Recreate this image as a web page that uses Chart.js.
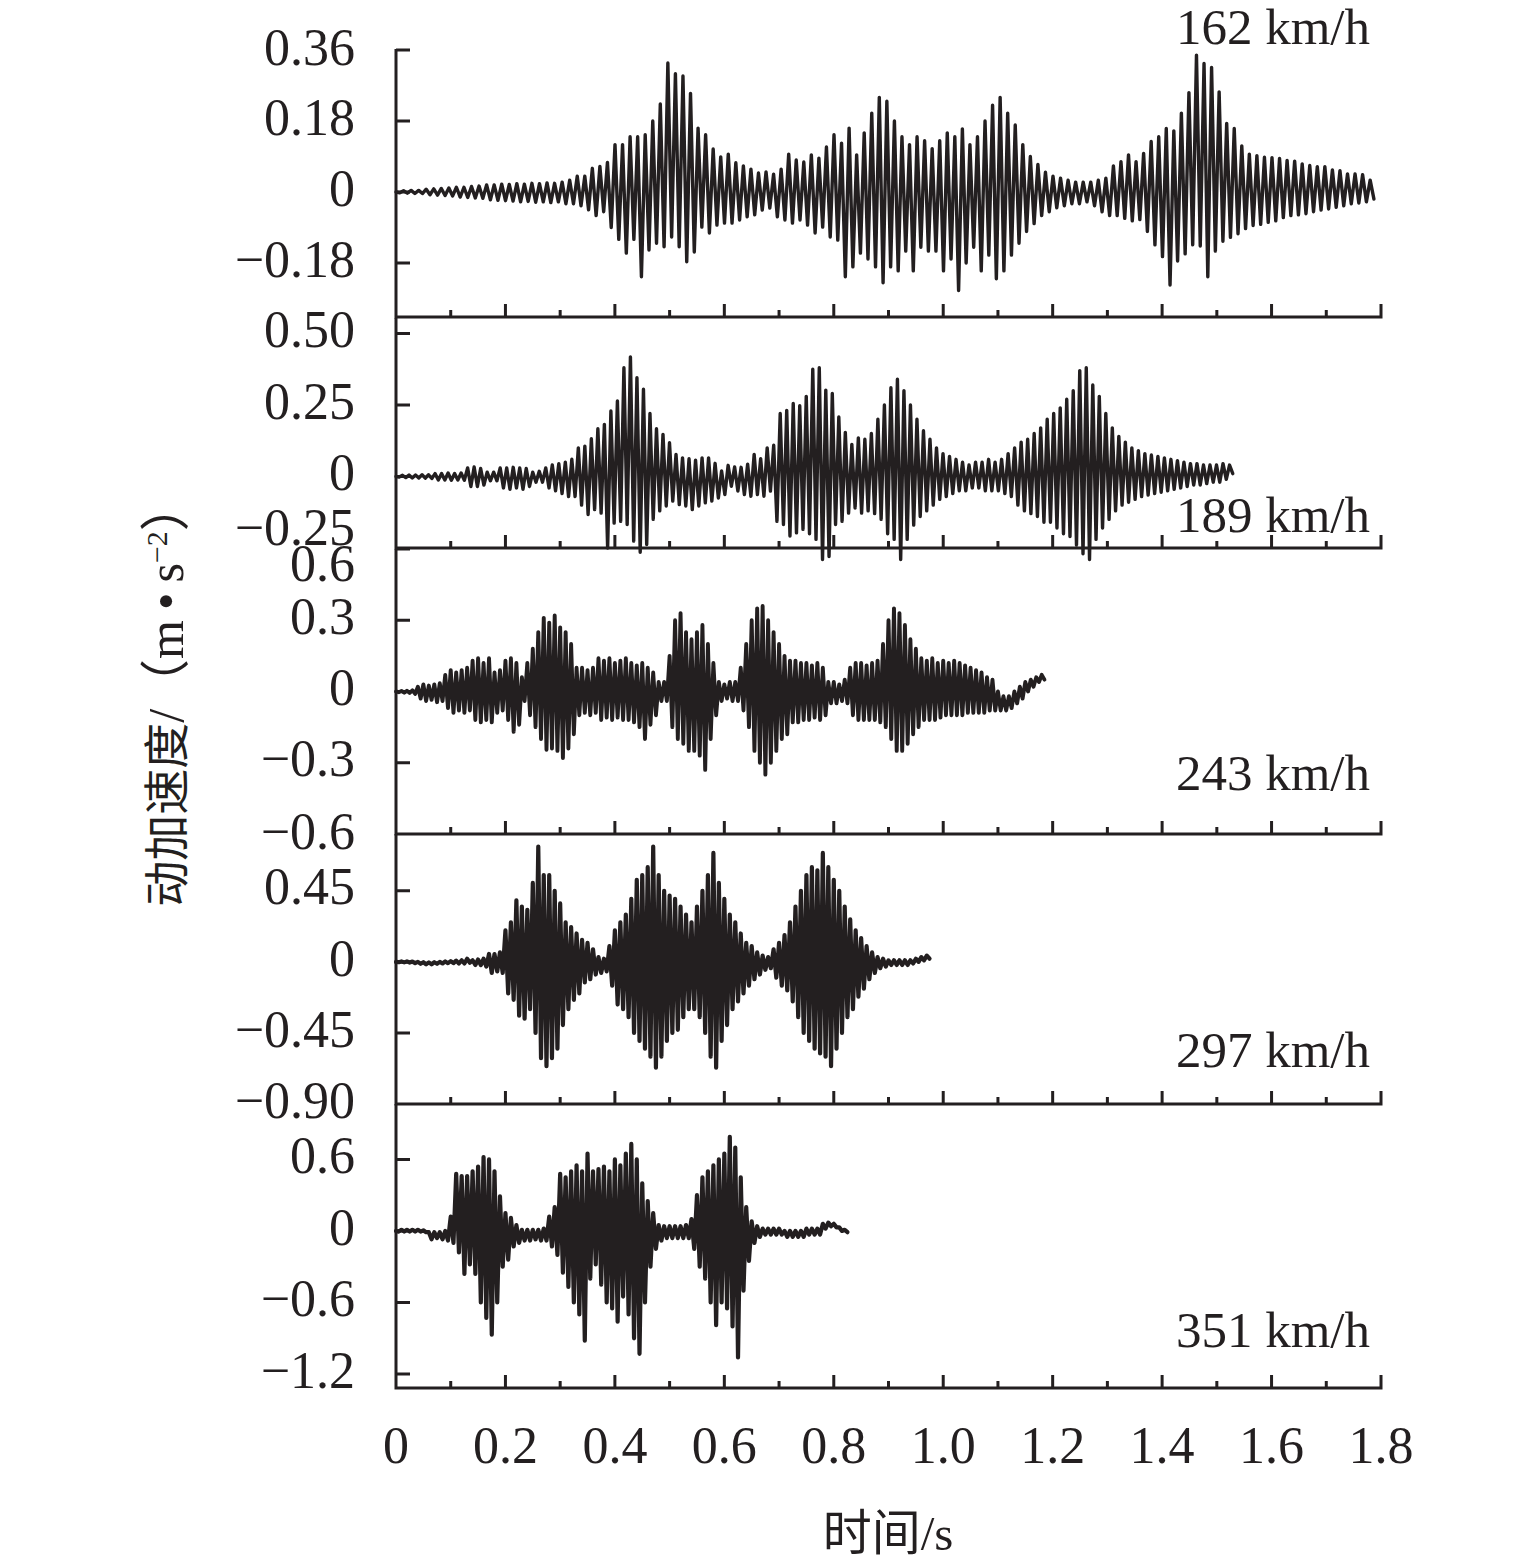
<!DOCTYPE html>
<html>
<head>
<meta charset="utf-8">
<script src="https://cdn.jsdelivr.net/npm/chart.js@4.4.0/dist/chart.umd.min.js"></script>
<style>
html,body{margin:0;padding:0;background:#fff;}
#wrap{position:relative;width:1535px;height:1568px;overflow:hidden;background:#fff;}
canvas.pc{position:absolute;left:0;}
.txt{position:absolute;font-family:"Liberation Serif","Times New Roman","Noto Sans CJK SC",serif;color:#231f20;white-space:nowrap;line-height:1;}
.speed{font-size:51px;transform:translateY(-50%);}
#ytitle{font-size:46px;left:166px;top:694px;transform:translate(-50%,-50%) rotate(-90deg);}
#ytitle .lat{font-size:50px;}
#ytitle sup{font-size:0.6em;position:relative;top:-0.55em;vertical-align:baseline;}
#xtitle{font-size:49px;left:888px;top:1533px;transform:translate(-50%,-50%);}
</style>
</head>
<body>
<div id="wrap">
  <div class="txt" id="ytitle">动加速度<span class="lat">/（m&#8201;•&#8201;s<sup>−2</sup>）</span></div>
  <div class="txt" id="xtitle">时间/s</div>
</div>
<script>
// ---------------- data ----------------
const timeTicksMajor = [0, 0.2, 0.4, 0.6, 0.8, 1.0, 1.2, 1.4, 1.6, 1.8];
const timeTickLabels = ['0', '0.2', '0.4', '0.6', '0.8', '1.0', '1.2', '1.4', '1.6', '1.8'];
const timeTicksMinor = [0.1, 0.3, 0.5, 0.7, 0.9, 1.1, 1.3, 1.5, 1.7];

const speedLabels = ['162 km/h', '189 km/h', '243 km/h', '297 km/h', '351 km/h'];

const ticks162 = [0.36, 0.18, 0, -0.18];
const tickLabels162 = ['0.36', '0.18', '0', '−0.18'];
const ticks189 = [0.5, 0.25, 0, -0.25];
const tickLabels189 = ['0.50', '0.25', '0', '−0.25'];
const ticks243 = [0.6, 0.3, 0, -0.3, -0.6];
const tickLabels243 = ['0.6', '0.3', '0', '−0.3', '−0.6'];
const ticks297 = [0.45, 0, -0.45, -0.9];
const tickLabels297 = ['0.45', '0', '−0.45', '−0.90'];
const ticks351 = [0.6, 0, -0.6, -1.2];
const tickLabels351 = ['0.6', '0', '−0.6', '−1.2'];

// sampling step (s) of each record, and the successive crest / trough values (m/s^2)
const step162 = 0.0069;
const crest162 = [0,.003,.004,.004,.007,.008,.009,.01,.012,.012,.014,.015,.018,.018,.02,.019,.021,.02,.022,.021,
.023,.022,.025,.03,.04,.04,.06,.065,.075,.12,.12,.14,.14,.145,.18,.223,.327,.30,.294,.25,
.162,.145,.109,.089,.096,.074,.066,.058,.048,.051,.045,.058,.096,.081,.076,.094,.086,.114,.145,.124,
.162,.094,.15,.2,.24,.23,.18,.14,.12,.14,.13,.11,.13,.15,.14,.16,.12,.14,.18,.22,
.24,.2,.17,.12,.09,.07,.05,.04,.035,.03,.025,.025,.025,.03,.035,.066,.077,.094,.077,.098,
.128,.14,.161,.155,.2,.252,.347,.326,.316,.254,.174,.161,.117,.096,.092,.088,.087,.085,.08,.078,
.071,.067,.064,.064,.056,.054,.046,.046,.044,.03];
const trough162 = [-.002,-.003,-.004,-.004,-.007,-.008,-.009,-.01,-.013,-.014,-.015,-.016,-.02,-.021,-.022,-.023,-.025,-.024,-.026,-.025,
-.027,-.025,-.03,-.03,-.035,-.045,-.06,-.05,-.09,-.12,-.155,-.12,-.215,-.147,-.13,-.139,-.114,-.139,-.177,-.152,
-.089,-.104,-.084,-.079,-.079,-.071,-.063,-.058,-.046,-.041,-.063,-.071,-.079,-.071,-.084,-.104,-.089,-.114,-.122,-.215,
-.19,-.155,-.17,-.19,-.23,-.19,-.2,-.15,-.2,-.14,-.15,-.15,-.2,-.17,-.25,-.18,-.14,-.2,-.16,-.22,
-.2,-.16,-.13,-.1,-.08,-.06,-.05,-.04,-.035,-.03,-.03,-.025,-.035,-.05,-.06,-.06,-.067,-.073,-.07,-.1,
-.134,-.164,-.236,-.175,-.157,-.134,-.137,-.215,-.15,-.125,-.115,-.106,-.093,-.085,-.082,-.077,-.073,-.065,-.06,-.058,
-.055,-.05,-.046,-.043,-.039,-.035,-.03,-.028,-.025,-.018];

const step189 = 0.00595;
const crest189 = [0,.004,.005,.005,.006,.006,.01,.01,.012,.01,.012,.03,.033,.028,.015,.015,.03,.03,.032,.03,
.028,.015,.018,.03,.04,.045,.05,.06,.1,.106,.132,.167,.182,.229,.264,.38,.418,.345,.305,.22,
.167,.147,.118,.077,.065,.062,.057,.065,.065,.046,.019,.039,.033,.032,.043,.077,.062,.1,.109,.22,
.231,.255,.247,.28,.375,.38,.302,.29,.208,.154,.112,.135,.13,.15,.2,.25,.31,.34,.3,.25,
.2,.16,.13,.1,.08,.07,.06,.05,.04,.05,.05,.06,.05,.06,.08,.1,.12,.13,.15,.17,
.2,.22,.24,.27,.3,.37,.38,.32,.28,.22,.17,.14,.12,.1,.09,.08,.075,.07,.065,.06,
.055,.05,.045,.045,.04,.04,.04,.045,.04];
const trough189 = [-.002,-.004,-.005,-.005,-.006,-.007,-.012,-.012,-.013,-.012,-.013,-.035,-.035,-.03,-.015,-.015,-.04,-.045,-.04,-.045,
-.035,-.02,-.02,-.04,-.05,-.06,-.07,-.07,-.1,-.133,-.116,-.128,-.25,-.163,-.157,-.168,-.226,-.265,-.238,-.15,
-.12,-.103,-.086,-.098,-.103,-.116,-.103,-.092,-.086,-.075,-.063,-.034,-.051,-.063,-.069,-.063,-.069,-.051,-.157,-.168,
-.208,-.197,-.185,-.2,-.22,-.29,-.28,-.168,-.157,-.128,-.11,-.128,-.12,-.13,-.15,-.2,-.22,-.29,-.22,-.17,
-.14,-.12,-.1,-.08,-.07,-.06,-.05,-.05,-.04,-.04,-.05,-.05,-.05,-.06,-.07,-.1,-.12,-.13,-.14,-.16,
-.16,-.18,-.2,-.21,-.24,-.27,-.29,-.22,-.18,-.15,-.12,-.1,-.09,-.08,-.07,-.065,-.06,-.055,-.05,-.045,
-.04,-.035,-.03,-.03,-.025,-.02,-.02,-.01,.01];

const step243 = 0.005;
const crest243 = [0,.002,.003,.005,.02,.03,.025,.03,.035,.07,.09,.08,.09,.1,.13,.14,.12,.14,.08,.09,
.13,.14,.12,.06,.12,.18,.25,.31,.29,.32,.27,.25,.2,.1,.1,.09,.1,.14,.13,.14,
.12,.13,.14,.12,.11,.12,.1,.08,.04,.04,.15,.3,.33,.25,.22,.25,.28,.2,.12,.04,
.03,.04,.04,.1,.2,.3,.35,.36,.3,.25,.2,.15,.13,.13,.12,.12,.11,.12,.1,.04,
.04,.03,.05,.1,.12,.12,.11,.12,.13,.2,.3,.35,.33,.28,.22,.18,.14,.13,.14,.12,
.13,.12,.13,.12,.11,.1,.09,.08,.06,.05,0,-.02,-.02,0,.02,.04,.05,.06,.07];
const trough243 = [-.003,-.005,-.006,-.01,-.03,-.04,-.035,-.045,-.04,-.07,-.09,-.08,-.09,-.08,-.12,-.13,-.12,-.13,-.09,-.08,
-.12,-.17,-.14,-.04,-.1,-.15,-.2,-.245,-.24,-.25,-.28,-.24,-.18,-.1,-.09,-.1,-.09,-.12,-.11,-.12,
-.11,-.12,-.12,-.13,-.15,-.2,-.14,-.1,-.04,-.04,-.15,-.2,-.22,-.25,-.25,-.27,-.33,-.2,-.1,-.04,
-.03,-.04,-.04,-.08,-.15,-.25,-.3,-.35,-.3,-.25,-.2,-.18,-.13,-.13,-.12,-.12,-.11,-.12,-.1,-.05,
-.05,-.04,-.05,-.1,-.12,-.12,-.12,-.12,-.13,-.15,-.2,-.25,-.25,-.22,-.18,-.15,-.12,-.12,-.12,-.11,
-.1,-.1,-.1,-.1,-.09,-.09,-.09,-.09,-.08,-.08,-.08,-.08,-.07,-.05,-.03,0,.02,.04,.05];

const step297 = 0.005;
const crest297 = [0,.003,.003,.002,0,-.002,-.003,-.002,0,.003,.005,.008,.01,.02,.01,.015,.02,.05,.05,.06,
.2,.25,.39,.35,.33,.5,.73,.55,.55,.45,.37,.25,.22,.18,.14,.12,.08,.03,.02,.1,
.2,.25,.3,.4,.52,.55,.6,.73,.55,.45,.42,.4,.35,.3,.25,.35,.45,.55,.69,.5,
.4,.3,.25,.18,.12,.1,.06,.04,.03,.08,.12,.17,.25,.35,.45,.55,.6,.58,.69,.6,
.52,.45,.35,.27,.2,.15,.1,.06,.03,.02,.01,.01,.01,.01,.01,.02,.03,.04];
const trough297 = [-.002,-.003,-.004,-.008,-.012,-.015,-.015,-.012,-.01,-.008,-.008,-.01,-.01,-.005,-.02,-.02,-.03,-.07,-.06,-.07,
-.2,-.24,-.34,-.36,-.3,-.45,-.61,-.66,-.61,-.55,-.4,-.3,-.24,-.2,-.13,-.11,-.08,-.07,-.06,-.15,
-.27,-.3,-.35,-.45,-.5,-.55,-.6,-.67,-.6,-.5,-.45,-.43,-.35,-.3,-.3,-.35,-.45,-.6,-.67,-.5,
-.4,-.3,-.25,-.2,-.15,-.11,-.08,-.05,-.04,-.1,-.15,-.18,-.25,-.35,-.45,-.5,-.55,-.58,-.6,-.66,
-.55,-.45,-.35,-.3,-.22,-.17,-.11,-.07,-.04,-.03,-.02,-.02,-.02,-.02,-.01,0,.01,.02];

const step351 = 0.005;
const crest351 = [0,.01,.01,.01,.01,.005,-.01,-.01,-.01,0,.12,.48,.46,.46,.5,.54,.62,.6,.5,.29,
.15,.11,.05,.01,.01,.01,.01,.02,.12,.2,.48,.45,.5,.55,.5,.65,.5,.52,.54,.5,
.6,.55,.65,.73,.6,.4,.25,.15,.05,.04,.04,.04,.04,.05,.1,.3,.45,.5,.55,.6,
.65,.79,.7,.45,.2,.08,.04,.02,.02,.02,.02,0,0,0,0,.02,.02,.02,.06,.07,
.06,.03,.01];
const trough351 = [-.005,-.005,-.005,-.005,-.005,-.01,-.07,-.06,-.07,-.08,-.1,-.18,-.36,-.28,-.36,-.6,-.73,-.87,-.6,-.3,
-.24,-.13,-.1,-.08,-.08,-.07,-.08,-.08,-.13,-.2,-.35,-.47,-.6,-.7,-.92,-.4,-.28,-.45,-.6,-.65,
-.76,-.55,-.7,-.9,-1.03,-.6,-.3,-.15,-.08,-.06,-.06,-.06,-.06,-.06,-.15,-.3,-.4,-.6,-.79,-.6,
-.65,-.8,-1.06,-.5,-.25,-.1,-.05,-.03,-.03,-.03,-.03,-.05,-.05,-.05,-.05,-.03,-.03,-.03,.02,.04,
.03,0,-.01];

// ---------------- drawing ----------------
const INK = '#231f20';
const SERIF = '"Liberation Serif", "Times New Roman", serif';

function record(crest, trough, step) {
  const pts = [];
  for (let k = 0; k < crest.length; k++) {
    pts.push({x: 2 * k * step, y: crest[k]});
    if (k < trough.length) pts.push({x: (2 * k + 1) * step, y: trough[k]});
  }
  return pts;
}

const panelAxes = {
  id: 'panelAxes',
  afterDatasetsDraw(chart, args, o) {
    const {ctx, chartArea: a} = chart;
    const xs = chart.scales.x, ys = chart.scales.y;
    ctx.save();
    ctx.strokeStyle = INK;
    ctx.fillStyle = INK;
    ctx.lineWidth = 3;
    ctx.lineCap = 'butt';
    ctx.beginPath();
    ctx.moveTo(a.left, a.top);
    ctx.lineTo(a.left, a.bottom + 1.5);
    ctx.moveTo(a.left - 1.5, a.bottom);
    ctx.lineTo(xs.getPixelForValue(1.8) + 1.5, a.bottom);
    timeTicksMajor.forEach(v => {
      const p = xs.getPixelForValue(v);
      ctx.moveTo(p, a.bottom); ctx.lineTo(p, a.bottom - 13);
    });
    timeTicksMinor.forEach(v => {
      const p = xs.getPixelForValue(v);
      ctx.moveTo(p, a.bottom); ctx.lineTo(p, a.bottom - 7);
    });
    o.ticks.forEach(v => {
      const p = ys.getPixelForValue(v);
      ctx.moveTo(a.left, p); ctx.lineTo(a.left + 14, p);
    });
    ctx.stroke();
    ctx.font = '52px ' + SERIF;
    ctx.textAlign = 'right';
    ctx.textBaseline = 'middle';
    o.ticks.forEach((v, i) => {
      ctx.fillText(o.labels[i], a.left - 41, ys.getPixelForValue(v) + (o.shift[i] || 0));
    });
    if (o.showTime) {
      ctx.textAlign = 'center';
      timeTicksMajor.forEach((v, i) => {
        ctx.fillText(timeTickLabels[i], xs.getPixelForValue(v), a.bottom + 61);
      });
    }
    ctx.restore();
  }
};

const M = 110;
const panels = [
  {top: 49,   bottom: 317,  min: -0.317, max: 0.3626, crest: crest162, trough: trough162, step: step162,
   ticks: ticks162, labels: tickLabels162, shift: [1, 0, 0, 0], speedY: 27, lw: 3.4},
  {top: 318,  bottom: 548,  min: -0.25,  max: 0.554,  crest: crest189, trough: trough189, step: step189,
   ticks: ticks189, labels: tickLabels189, shift: [0, 0, 0, -17], speedY: 515, lw: 3.4},
  {top: 549,  bottom: 834,  min: -0.6,   max: 0.6,    crest: crest243, trough: trough243, step: step243,
   ticks: ticks243, labels: tickLabels243, shift: [18, 0, 0, 0, 1], speedY: 773, lw: 3.9},
  {top: 834,  bottom: 1104, min: -0.9,   max: 0.81,   crest: crest297, trough: trough297, step: step297,
   ticks: ticks297, labels: tickLabels297, shift: [0, 0, 0, 0], speedY: 1050, lw: 4.2},
  {top: 1104, bottom: 1388, min: -1.317, max: 1.065,  crest: crest351, trough: trough351, step: step351,
   ticks: ticks351, labels: tickLabels351, shift: [0, 0, 0, 0], speedY: 1330, lw: 4.2}
];

const wrap = document.getElementById('wrap');
panels.forEach((p, i) => {
  const cv = document.createElement('canvas');
  cv.className = 'pc';
  cv.width = 1535;
  cv.height = (p.bottom - p.top) + 2 * M;
  cv.style.width = '1535px';
  cv.style.height = cv.height + 'px';
  cv.style.top = (p.top - M) + 'px';
  wrap.appendChild(cv);

  const sp = document.createElement('div');
  sp.className = 'txt speed';
  sp.textContent = speedLabels[i];
  sp.style.right = (1535 - 1370) + 'px';
  sp.style.top = p.speedY + 'px';
  wrap.appendChild(sp);

  new Chart(cv, {
    type: 'line',
    data: {
      datasets: [{
        data: record(p.crest, p.trough, p.step),
        borderColor: INK,
        borderWidth: p.lw,
        borderJoinStyle: 'round',
        borderCapStyle: 'round',
        pointRadius: 0,
        fill: false,
        tension: 0,
        clip: false
      }]
    },
    options: {
      responsive: false,
      maintainAspectRatio: false,
      devicePixelRatio: 1,
      animation: false,
      events: [],
      parsing: false,
      normalized: true,
      layout: {padding: {left: 396, right: 154, top: M, bottom: M}},
      scales: {
        x: {type: 'linear', min: 0, max: 1.8, display: false},
        y: {type: 'linear', min: p.min, max: p.max, display: false}
      },
      plugins: {
        legend: {display: false},
        tooltip: {enabled: false},
        panelAxes: {ticks: p.ticks, labels: p.labels, shift: p.shift, showTime: i === 4}
      }
    },
    plugins: [panelAxes]
  });
});
</script>
</body>
</html>
